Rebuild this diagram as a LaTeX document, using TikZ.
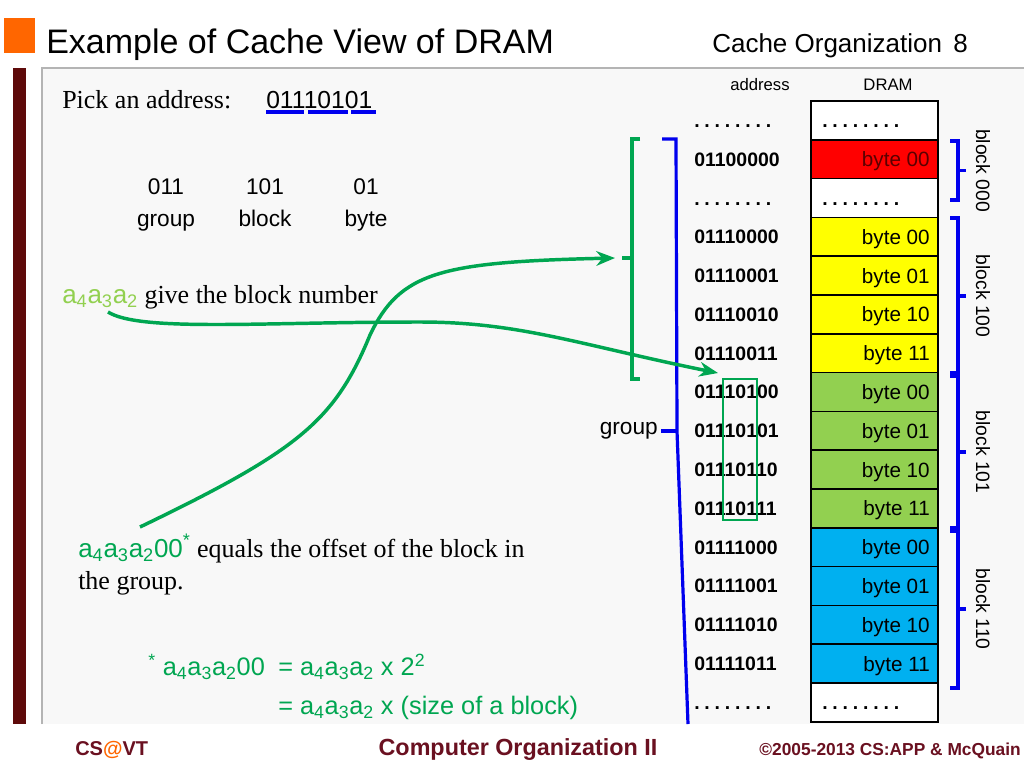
\documentclass[tikz,border=0pt]{standalone}
\usepackage{fontspec}
\setmainfont{Liberation Serif}
\setsansfont{Liberation Sans}
\usetikzlibrary{arrows.meta}
\definecolor{cred}{HTML}{FF0000}
\definecolor{cyel}{HTML}{FFFF00}
\definecolor{cgrn}{HTML}{92D050}
\definecolor{cblu}{HTML}{00B0F0}
\definecolor{lgreen}{HTML}{92D050}
\definecolor{dgreen}{HTML}{00A651}
\definecolor{maroon}{HTML}{5E0A0A}
\definecolor{footred}{HTML}{6A1020}
\definecolor{orng}{HTML}{FF6600}
\definecolor{panel}{HTML}{F8F8F8}
\definecolor{pborder}{HTML}{B4B4B4}
\definecolor{bblue}{HTML}{0000EE}
\definecolor{darkred}{HTML}{5A0000}
\newcommand\fs[1]{\fontsize{#1}{#1}\selectfont}
\newcommand\sub[1]{\textsubscript{#1}}
\newcommand\dotrow{.\kern3.6pt.\kern3.6pt.\kern3.6pt.\kern3.6pt.\kern3.6pt.\kern3.6pt.\kern3.6pt.}
\begin{document}
\begin{tikzpicture}[x=0.75pt,y=-0.75pt,
  sans/.style={inner sep=0pt,font=\sffamily},
  addr/.style={sans,anchor=base west,font=\sffamily\bfseries\fs{14.6pt}},
  bytetext/.style={sans,anchor=base east,font=\sffamily\fs{15.5pt}},
  blk/.style={sans,rotate=-90,font=\sffamily\fs{14.5pt}},
  bbr/.style={draw=bblue,line width=2.4pt},
  gbr/.style={draw=dgreen,line width=2.4pt},
  garrow/.style={draw=dgreen,line width=2.6pt,-{Stealth[length=14pt,width=11pt,inset=4.5pt]}},
  cellbox/.style={draw=black,line width=1.1pt},
]
\useasboundingbox[fill=white] (0,0) rectangle (1024,768);

% header
\fill[orng] (4,18) rectangle (35,53);
\node[sans,anchor=base west,font=\sffamily\fs{25.5pt}] (title) at (46,53) {Example of Cache View of DRAM};
\node[sans,anchor=base west,font=\sffamily\fs{19.5pt}] (sect) at (712,52) {Cache Organization};
\node[sans,anchor=base west,font=\sffamily\fs{19.5pt}] (pnum) at (953,52) {8};

% panel
\fill[maroon] (13,68) rectangle (26,724);
\fill[panel] (42,68) rectangle (1024,724);
\draw[pborder,line width=0.8pt] (42,724) -- (42,68) -- (1024,68);

% pick an address
\node[inner sep=0pt,anchor=base west,font=\fs{19.5pt}] (pick) at (62,108) {Pick an address:};
\node[sans,anchor=base west,font=\sffamily\fs{18.5pt}] (addrx) at (266,108) {01110101};
\draw[bblue,line width=2.4pt] (266,112) -- (304,112);
\draw[bblue,line width=2.4pt] (308,112) -- (348,112);
\draw[bblue,line width=2.4pt] (351,112) -- (376,112);

\node[sans,anchor=base,font=\sffamily\fs{17pt}] (g1) at (166,194) {011};
\node[sans,anchor=base,font=\sffamily\fs{17pt}] (g2) at (265,194) {101};
\node[sans,anchor=base,font=\sffamily\fs{17pt}] (g3) at (366,194) {01};
\node[sans,anchor=base,font=\sffamily\fs{17pt}] (l1) at (166,226) {group};
\node[sans,anchor=base,font=\sffamily\fs{17pt}] (l2) at (265,226) {block};
\node[sans,anchor=base,font=\sffamily\fs{17pt}] (l3) at (366,226) {byte};

\node[inner sep=0pt,anchor=base west,font=\fs{19.5pt}] (bnum) at (62,303)
  {{\sffamily\color{lgreen}a\sub{4}a\sub{3}a\sub{2}} give the block number};
\node[inner sep=0pt,anchor=base west,font=\fs{19.5pt}] (offs) at (78,557)
  {{\sffamily\color{dgreen}a\sub{4}a\sub{3}a\sub{2}00\textsuperscript{*}} equals the offset of the block in};
\node[inner sep=0pt,anchor=base west,font=\fs{19.5pt}] (offs2) at (78,589) {the group.};

\node[sans,anchor=base west,font=\sffamily\fs{19pt},text=dgreen] (eq1) at (148,675)
  {\textsuperscript{*} a\sub{4}a\sub{3}a\sub{2}00};
\node[sans,anchor=base west,font=\sffamily\fs{19pt},text=dgreen] (eq1b) at (278,675)
  {= a\sub{4}a\sub{3}a\sub{2} x 2\textsuperscript{2}};
\node[sans,anchor=base west,font=\sffamily\fs{19pt},text=dgreen] (eq2) at (278,714)
  {= a\sub{4}a\sub{3}a\sub{2} x (size of a block)};

% table headers
\node[sans,font=\sffamily\fs{12.5pt}] (haddr) at (760,85) {address};
\node[sans,font=\sffamily\fs{12.5pt}] (hdram) at (888,85) {DRAM};

% table cells
\foreach \i in {0,2,15}{
  \draw[cellbox,fill=white] (811,{101+38.8*\i}) rectangle (938,{101+38.8*(\i+1)});
  \node[addr] (a\i) at (694,{101+38.8*\i+26.5}) {\dotrow};
  \node[addr] (d\i) at (822,{101+38.8*\i+26.5}) {\dotrow};
}
\foreach \i/\col/\ad/\by/\tc in {1/cred/01100000/00/darkred,
  3/cyel/01110000/00/black,4/cyel/01110001/01/black,5/cyel/01110010/10/black,6/cyel/01110011/11/black,
  7/cgrn/01110100/00/black,8/cgrn/01110101/01/black,9/cgrn/01110110/10/black,10/cgrn/01110111/11/black,
  11/cblu/01111000/00/black,12/cblu/01111001/01/black,13/cblu/01111010/10/black,14/cblu/01111011/11/black}{
  \draw[cellbox,fill=\col] (811,{101+38.8*\i}) rectangle (938,{101+38.8*(\i+1)});
  \node[addr] (a\i) at (694,{101+38.8*\i+26.3}) {\ad};
  \node[bytetext,text=\tc] (b\i) at (930,{101+38.8*\i+26.8}) {byte \by};
}

% block braces
\draw[bbr] (950,141) -- (958,141) -- (958,200) -- (950,200);
\draw[bbr] (958,170.5) -- (966,170.5);
\node[blk] (k0) at (983,170.5) {block 000};
\draw[bbr] (950,218) -- (958,218) -- (958,373) -- (950,373);
\draw[bbr] (958,296) -- (966,296);
\node[blk] (k1) at (983,296) {block 100};
\draw[bbr] (950,376) -- (958,376) -- (958,528) -- (950,528);
\draw[bbr] (958,452) -- (966,452);
\node[blk] (k2) at (983,452) {block 101};
\draw[bbr] (950,531) -- (958,531) -- (958,688) -- (950,688);
\draw[bbr] (958,609) -- (966,609);
\node[blk] (k3) at (983,609) {block 110};

% group bracket (blue)
\draw[bbr] (662,139) -- (676,139) -- (677,431) -- (688,724);
\node[sans,anchor=east,font=\sffamily\fs{17pt}] (grp) at (658,431) {group};
\draw[bbr] (grp.east) ++(3,0) coordinate (gt) -- (677,431);

% green bracket
\draw[gbr] (640,139) -- (632,139) -- (632,379) -- (640,379);
\draw[gbr] (622,258) coordinate (gtick) -- (632,258);

% green box around block bits
\node[draw=dgreen,line width=1.7pt,inner sep=0pt,minimum width=25.5pt,minimum height=105.75pt] (bitbox) at (740,449.5) {};

% curves
\coordinate (s1) at (108,312);
\coordinate (e1) at (718,373);
\draw[garrow] (s1) .. controls (140,332) and (260,322) .. (420,322) .. controls (520,322) and (580,345) .. (e1);
\coordinate (s2) at (140,527);
\coordinate (e2) at (615,258);
\draw[garrow] (s2) .. controls (300,450) and (335,420) .. (370,335) .. controls (400,272) and (440,262) .. (e2);

% footer
\node[sans,anchor=base west,font=\sffamily\bfseries\fs{15pt},text=footred] (cs) at (75,755) {CS{\color{orng}@}VT};
\node[sans,anchor=base,font=\sffamily\bfseries\fs{17.5pt},text=footred] (co) at (518,755) {Computer Organization II};
\node[sans,anchor=base east,font=\sffamily\bfseries\fs{13pt},text=footred] (cp) at (1021,755) {©2005-2013 CS:APP \& McQuain};
\end{tikzpicture}
\end{document}
